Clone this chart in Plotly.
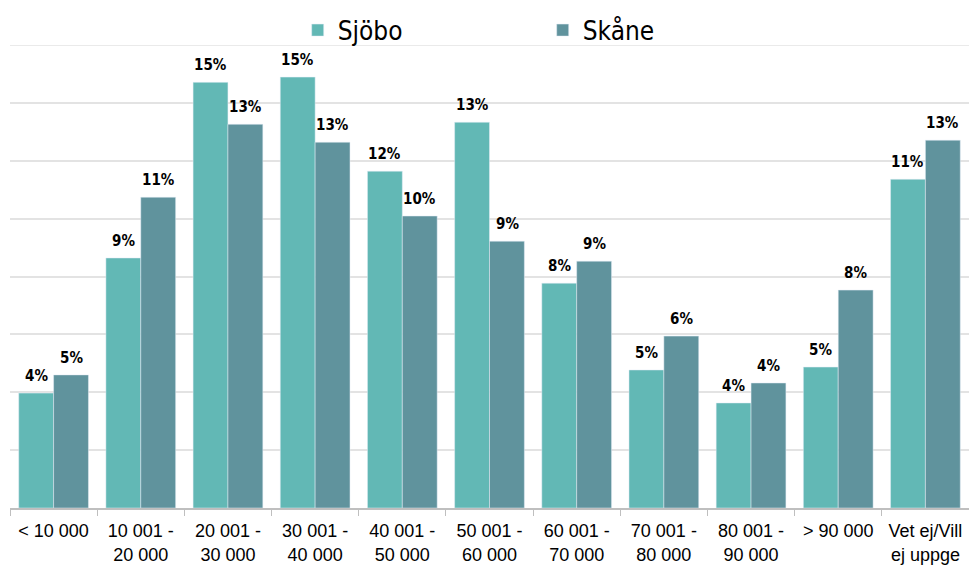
import plotly.graph_objects as go

categories = ["< 10 000", "10 001 -<br>20 000", "20 001 -<br>30 000", "30 001 -<br>40 000",
              "40 001 -<br>50 000", "50 001 -<br>60 000", "60 001 -<br>70 000",
              "70 001 -<br>80 000", "80 001 -<br>90 000", "> 90 000", "Vet ej/Vill<br>ej uppge"]
sjobo = [3.97, 8.64, 14.71, 14.89, 11.64, 13.33, 7.77, 4.77, 3.63, 4.87, 11.36]
skane = [4.6, 10.74, 13.26, 12.64, 10.09, 9.22, 8.53, 5.94, 4.32, 7.53, 12.71]

label_font = dict(family="DejaVu Sans Condensed, Liberation Sans Narrow, sans-serif", size=15, color="black")

fig = go.Figure()
fig.add_trace(go.Bar(x=categories, y=sjobo, name="Sjöbo", marker=dict(color="#62B8B5")))
fig.add_trace(go.Bar(x=categories, y=skane, name="Skåne", marker=dict(color="#60939D")))

# value labels, sitting a little above each bar (left bar / right bar of each group)
for series, shift in ((sjobo, -17.5), (skane, 17.5)):
    for cat, v in zip(categories, series):
        fig.add_annotation(x=cat, y=v, text=f"<b>{round(v)}%</b>", showarrow=False,
                           xshift=shift, yshift=6, yanchor="bottom", font=label_font)

# plotly drops the gridline sitting on the top edge, draw it by hand
fig.add_shape(type="line", xref="paper", x0=0, x1=1, yref="y", y0=16, y1=16,
              line=dict(color="#E3E3E3", width=1.5), layer="below")

fig.update_layout(
    width=969, height=565,
    barmode="group", bargap=0.2, bargroupgap=0,
    plot_bgcolor="white", paper_bgcolor="white",
    margin=dict(l=10, r=0, t=45, b=57, autoexpand=False),
    showlegend=True,
    legend=dict(orientation="h", x=0.30, xanchor="left", y=1.032, yanchor="middle",
                font=dict(family="DejaVu Sans Condensed, sans-serif", size=26, color="black"),
                entrywidth=200, bgcolor="rgba(0,0,0,0)"),
)
fig.update_yaxes(range=[0, 16], dtick=2, showticklabels=False, showgrid=True,
                 gridcolor="#E3E3E3", gridwidth=1.5, zeroline=False, showline=False,
                 automargin=False)
fig.update_xaxes(showline=True, linecolor="#BFBFBF", linewidth=1.5,
                 ticks="outside", tickson="boundaries", ticklen=6, tickcolor="#BFBFBF",
                 tickfont=dict(family="Liberation Sans, Arial, sans-serif", size=18, color="black"),
                 ticklabelstandoff=6, tickangle=0, automargin=False)

# page body has an 8px default margin; drop it so the figure sits at 0,0
fig.write_html("out.html", config={"displayModeBar": False},
               post_script="document.body.style.margin='0';")
